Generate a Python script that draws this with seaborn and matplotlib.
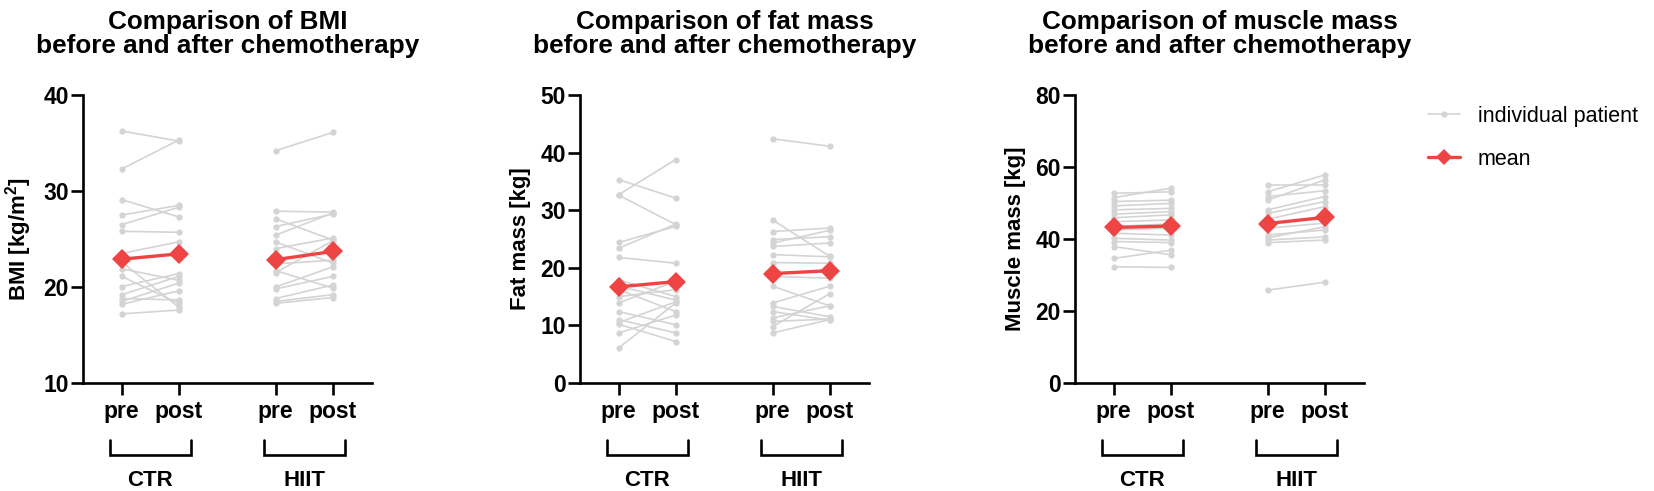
import numpy as np
import pandas as pd
import matplotlib
matplotlib.use("Agg")
import matplotlib.pyplot as plt
import seaborn as sns
from matplotlib.lines import Line2D

# ---------------- data ----------------
groups = ["CTR", "HIIT"]
times = ["pre", "post"]

bmi_ctr_pre = [36.25, 32.3, 29.1, 27.5, 26.5, 25.8, 23.5, 22.6, 21.9, 21.1, 20.05, 19.2, 18.8, 18.5, 18.2, 17.2]
bmi_ctr_post = [35.2, 35.3, 27.3, 28.5, 28.3, 25.7, 24.7, 17.9, 20.7, 18.3, 21.4, 21.1, 18.65, 20.4, 19.6, 17.6]
bmi_hiit_pre = [34.2, 27.9, 27.1, 26.3, 25.4, 24.7, 24.0, 22.4, 21.7, 21.5, 20.0, 19.8, 18.8, 18.5, 18.3]
bmi_hiit_post = [36.1, 27.8, 24.9, 27.6, 27.7, 22.5, 25.1, 22.8, 19.9, 24.8, 22.1, 21.1, 20.2, 19.2, 18.9]
bmi_mean_ctr = [22.9, 23.45]
bmi_mean_hiit = [22.85, 23.7]

fat_ctr_pre = [35.3, 32.7, 32.6, 24.4, 23.4, 21.8, 17.9, 16.8, 16.2, 15.0, 13.9, 12.4, 11.0, 10.5, 10.2, 8.7, 6.1]
fat_ctr_post = [32.1, 38.8, 27.5, 27.2, 27.6, 20.8, 15.0, 14.4, 12.4, 16.2, 17.7, 10.1, 8.7, 14.1, 7.2, 11.8, 13.9]
fat_hiit_pre = [42.4, 28.3, 26.3, 24.9, 24.3, 23.7, 22.3, 20.9, 18.5, 16.8, 13.9, 13.3, 12.4, 11.3, 10.7, 9.8, 8.7]
fat_hiit_post = [41.1, 22.0, 26.9, 25.4, 26.5, 24.3, 21.9, 20.8, 18.2, 13.4, 16.8, 11.5, 10.9, 13.4, 11.1, 15.5, 11.0]
fat_mean_ctr = [16.7, 17.6]
fat_mean_hiit = [19.0, 19.5]

mus_ctr_pre = [52.7, 51.5, 50.4, 49.2, 48.1, 46.9, 45.9, 44.8, 43.5, 42.5, 41.6, 40.2, 39.3, 37.9, 34.6, 32.3]
mus_ctr_post = [53.1, 54.1, 50.8, 49.9, 48.5, 47.6, 46.7, 45.3, 44.2, 43.0, 41.1, 39.7, 39.0, 35.6, 36.9, 32.1]
mus_hiit_pre = [55.0, 53.1, 51.8, 50.8, 48.1, 47.1, 45.5, 43.0, 41.1, 40.3, 39.7, 39.0, 25.8]
mus_hiit_post = [55.0, 57.8, 53.4, 56.4, 51.8, 50.4, 49.0, 44.4, 42.5, 43.4, 40.6, 39.7, 28.0]
mus_mean_ctr = [43.2, 43.6]
mus_mean_hiit = [44.3, 46.0]

titles = ["Comparison of BMI\nbefore and after chemotherapy",
          "Comparison of fat mass\nbefore and after chemotherapy",
          "Comparison of muscle mass\nbefore and after chemotherapy"]
ylabels = ["BMI [kg/m$^{2}$]", "Fat mass [kg]", "Muscle mass [kg]"]
ylims = [(10, 40), (0, 50), (0, 80)]
ysteps = [10, 10, 20]
legend_labels = ["individual patient", "mean"]

# ---------------- layout / style ----------------
GRAY = "#d4d4d4"
RED = "#ef4444"
xpos = {("CTR", "pre"): 0.0, ("CTR", "post"): 1.0, ("HIIT", "pre"): 2.7, ("HIIT", "post"): 3.7}

sns.set_theme(style="ticks")
plt.rcParams["font.family"] = ["Liberation Sans", "DejaVu Sans"]
plt.rcParams["font.weight"] = "bold"
plt.rcParams["mathtext.fontset"] = "custom"
plt.rcParams["mathtext.rm"] = "Liberation Sans:bold"
plt.rcParams["mathtext.bf"] = "Liberation Sans:bold"
plt.rcParams["mathtext.default"] = "bf"
for k in ["text.color", "axes.labelcolor", "xtick.color", "ytick.color", "axes.edgecolor"]:
    plt.rcParams[k] = "black"

W, H = 1654, 491
fig = plt.figure(figsize=(W / 100, H / 100), dpi=100)
lefts_px = [83, 580, 1075]
ax_w_px, ax_top_px, ax_bot_px = 289, 95, 383

panel_data = [
    ((bmi_ctr_pre, bmi_ctr_post), (bmi_hiit_pre, bmi_hiit_post), bmi_mean_ctr, bmi_mean_hiit),
    ((fat_ctr_pre, fat_ctr_post), (fat_hiit_pre, fat_hiit_post), fat_mean_ctr, fat_mean_hiit),
    ((mus_ctr_pre, mus_ctr_post), (mus_hiit_pre, mus_hiit_post), mus_mean_ctr, mus_mean_hiit),
]

for i, (ctr, hiit, mctr, mhiit) in enumerate(panel_data):
    ax = fig.add_axes([lefts_px[i] / W, 1 - ax_bot_px / H, ax_w_px / W, (ax_bot_px - ax_top_px) / H])
    rows = []
    for g, (pre, post) in zip(groups, [ctr, hiit]):
        for k, (a, b) in enumerate(zip(pre, post)):
            rows.append(dict(pid=f"{g}{k}", x=xpos[(g, "pre")], value=a))
            rows.append(dict(pid=f"{g}{k}", x=xpos[(g, "post")], value=b))
    df = pd.DataFrame(rows)
    sns.lineplot(data=df, x="x", y="value", units="pid", estimator=None, color=GRAY,
                 lw=1.2, marker="o", markersize=4.5, markeredgewidth=0, ax=ax, legend=False)
    mrows = []
    for g, m in zip(groups, [mctr, mhiit]):
        for t, v in zip(times, m):
            mrows.append(dict(grp=g, x=xpos[(g, t)], value=v))
    mdf = pd.DataFrame(mrows)
    sns.lineplot(data=mdf, x="x", y="value", units="grp", estimator=None, color=RED,
                 lw=2.4, marker="D", markersize=10.5, markeredgewidth=0, ax=ax, legend=False)

    ax.set_xlim(-0.68, 4.39)
    lo, hi = ylims[i]
    ax.set_ylim(lo, hi)
    ax.set_yticks(np.arange(lo, hi + 0.1, ysteps[i]))
    ax.set_xticks([xpos[(g, t)] for g in groups for t in times],
                  [t for g in groups for t in times])
    for s in ["top", "right"]:
        ax.spines[s].set_visible(False)
    for s in ["left", "bottom"]:
        ax.spines[s].set_linewidth(1.9)
        ax.spines[s].set_color("black")
    ax.tick_params(axis="both", width=1.9, length=8.5, color="black", labelcolor="black",
                   labelsize=16.5)
    ax.tick_params(axis="y", pad=1.5)
    ax.tick_params(axis="x", pad=4)
    for lab in ax.get_xticklabels() + ax.get_yticklabels():
        lab.set_fontweight("bold")
    ax.set_xlabel("")
    ax.set_ylabel(ylabels[i], fontsize=16, fontweight="bold", labelpad=7, color="black")
    ax.set_title(titles[i], fontsize=18.8, fontweight="bold", pad=30, linespacing=1.0,
                 color="black")
    ax.grid(False)

    # group brackets under the x tick labels
    tr = ax.get_xaxis_transform()
    yb_top = -(440 - ax_bot_px) / (ax_bot_px - ax_top_px)
    yb_bot = -(455 - ax_bot_px) / (ax_bot_px - ax_top_px)
    ylab = -(481 - ax_bot_px) / (ax_bot_px - ax_top_px)
    for g in groups:
        x0 = xpos[(g, "pre")] - 0.21
        x1 = xpos[(g, "post")] + 0.21
        ax.plot([x0, x0, x1, x1], [yb_top, yb_bot, yb_bot, yb_top], transform=tr,
                clip_on=False, color="black", lw=1.9, solid_joinstyle="miter")
        ax.text((x0 + x1) / 2, ylab, g, transform=tr, ha="center", va="center",
                fontsize=16, fontweight="bold", color="black")

handles = [Line2D([], [], color=GRAY, lw=1.2, marker="o", markersize=4.5, markeredgewidth=0),
           Line2D([], [], color=RED, lw=2.4, marker="D", markersize=8, markeredgewidth=0)]
leg = fig.legend(handles, legend_labels, loc="upper left", bbox_to_anchor=(1428 / W, 1 - 106 / H),
                 frameon=False, fontsize=15.5, handlelength=1.5, handletextpad=0.8,
                 labelspacing=1.0, borderaxespad=0, borderpad=0)
for t in leg.get_texts():
    t.set_fontweight("normal")
    t.set_color("black")

fig.savefig("out.png", dpi=100, facecolor="white")
